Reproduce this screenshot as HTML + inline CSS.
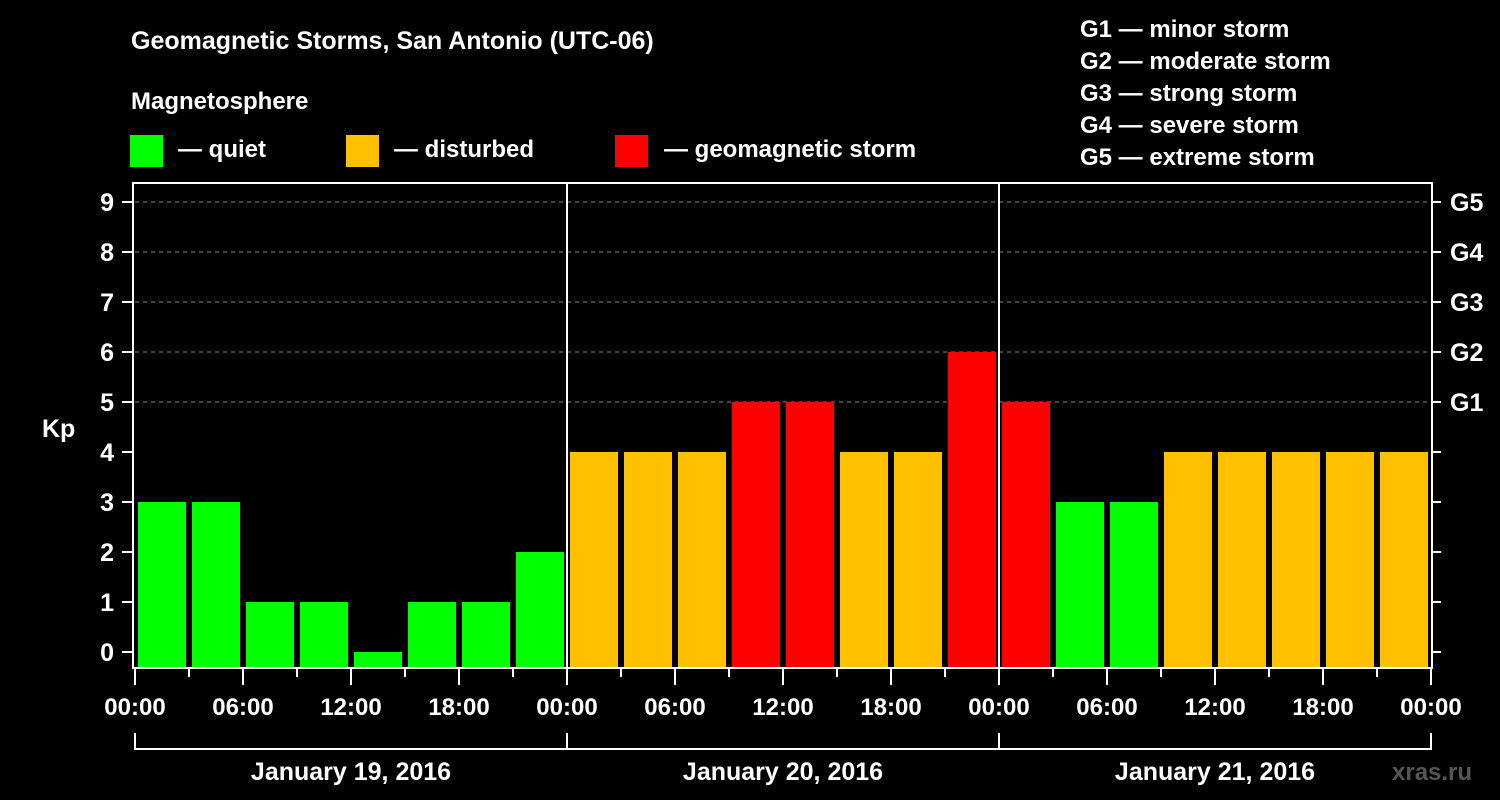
<!DOCTYPE html>
<html><head><meta charset="utf-8"><style>
html,body{margin:0;padding:0;background:#000;}
svg{display:block;font-family:"Liberation Sans",Arial,sans-serif;font-weight:bold;}
</style></head><body>
<svg id="chart" width="1500" height="800" viewBox="0 0 1500 800" xmlns="http://www.w3.org/2000/svg">
<rect width="1500" height="800" fill="#000"/>
<text x="131" y="49" fill="#fff" font-size="25">Geomagnetic Storms, San Antonio (UTC-06)</text>
<text x="131" y="109" fill="#fff" font-size="24">Magnetosphere</text>
<g><rect x="130" y="135" width="33" height="32" fill="#00ff00"/><text x="178" y="157" fill="#fff" font-size="24">— quiet</text></g>
<g><rect x="346" y="135" width="33" height="32" fill="#ffc000"/><text x="394" y="157" fill="#fff" font-size="24">— disturbed</text></g>
<g><rect x="615" y="135" width="33" height="32" fill="#ff0000"/><text x="664" y="157" fill="#fff" font-size="24">— geomagnetic storm</text></g>
<g fill="#fff" font-size="24">
<text x="1080" y="37">G1 — minor storm</text>
<text x="1080" y="69">G2 — moderate storm</text>
<text x="1080" y="101">G3 — strong storm</text>
<text x="1080" y="133">G4 — severe storm</text>
<text x="1080" y="165">G5 — extreme storm</text>
</g>
<text x="42" y="437" fill="#fff" font-size="25">Kp</text>
<text x="1392" y="780" fill="#555" font-size="24">xras.ru</text>
<g id="grid"></g><g id="bars"></g><g id="axes"></g>
</svg>
<script>
const kpValues=[3,3,1,1,0,1,1,2, 4,4,4,5,5,4,4,6, 5,3,3,4,4,4,4,4];
const dayLabels=["January 19, 2016","January 20, 2016","January 21, 2016"];
const yTicks=[0,1,2,3,4,5,6,7,8,9];
const gLabels=["G1","G2","G3","G4","G5"];
const gLevels=[5,6,7,8,9];
const hourLabels=["00:00","06:00","12:00","18:00"];
const NS="http://www.w3.org/2000/svg";
const X0=135,PXH=18,Y0=652,PXU=50,TOP=183,BOT=668,RIGHT=1432;
const xs=h=>X0+h*PXH; const ys=v=>Y0-v*PXU;
function mk(t,a,p){const e=document.createElementNS(NS,t);for(const k in a)e.setAttribute(k,a[k]);(p||document.getElementById('axes')).appendChild(e);return e;}
const grid=document.getElementById('grid'),bars=document.getElementById('bars');
gLevels.forEach((g,i)=>{
 const l=mk('line',{x1:X0,x2:RIGHT,y1:ys(g),y2:ys(g),stroke:'#888','stroke-dasharray':'4,4','stroke-width':1},grid);
 
 
 const t=mk('text',{x:1450,y:ys(g)+9,fill:'#fff','font-size':25});t.textContent=gLabels[i];
 
 
});
kpValues.forEach((v,i)=>{
 const c=v>=5?'#ff0000':(v>=4?'#ffc000':'#00ff00');
 const r=mk('rect',{x:xs(i*3)+3,y:ys(v),width:48,height:BOT-ys(v),fill:c},bars);
 
 
});
mk('rect',{x:133,y:TOP,width:RIGHT-133,height:BOT-TOP,fill:'none',stroke:'#fff','stroke-width':2});
dayLabels.forEach((d,i)=>{
 if(i>0){mk('line',{x1:xs(i*24),x2:xs(i*24),y1:TOP,y2:BOT,stroke:'#fff','stroke-width':2});}
 const t=mk('text',{x:xs(i*24+12),y:780,fill:'#fff','font-size':25,'text-anchor':'middle'});t.textContent=d;
 
 
});
mk('path',{d:`M${xs(0)},733V749H${xs(72)}V733M${xs(24)},733V749M${xs(48)},733V749`,stroke:'#fff','stroke-width':2,fill:'none'});
for(let h=0;h<=72;h+=3){
 const major=h%6===0;
 mk('line',{x1:xs(h),x2:xs(h),y1:BOT,y2:major?685:677,stroke:'#fff','stroke-width':2});
 if(major){const t=mk('text',{x:xs(h),y:715,fill:'#fff','font-size':24,'text-anchor':'middle'});t.textContent=hourLabels[(h/6)%4];
 
 }
}
yTicks.forEach(v=>{
 mk('line',{x1:122,x2:133,y1:ys(v),y2:ys(v),stroke:'#fff','stroke-width':2});
 mk('line',{x1:RIGHT,x2:1441,y1:ys(v),y2:ys(v),stroke:'#fff','stroke-width':2});
 const t=mk('text',{x:114,y:ys(v)+9,fill:'#fff','font-size':25,'text-anchor':'end'});t.textContent=v;
 
 
});
</script>
</body></html>
